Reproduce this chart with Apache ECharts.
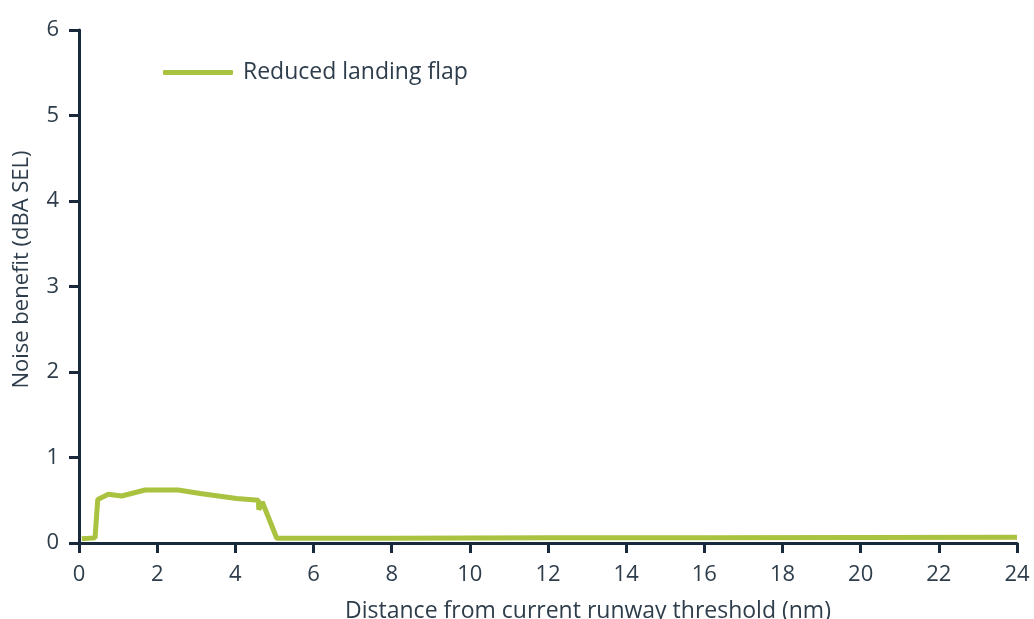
<!DOCTYPE html>
<html>
<head>
<meta charset="utf-8">
<script src="https://cdn.jsdelivr.net/npm/echarts@6/dist/echarts.min.js"></script>
<style>
html,body{margin:0;padding:0;background:#fff;}
#chart{width:1034px;height:619px;}
</style>
</head>
<body>
<div id="chart"></div>
<script>
const seriesName = 'Reduced landing flap';
const distance = [0.07, 0.41, 0.48, 0.75, 1.09, 1.69, 2.54, 3.10, 4.03, 4.59, 4.60, 4.69, 5.06, 8, 12, 16, 20, 24];
const benefit  = [0.05, 0.06, 0.51, 0.57, 0.55, 0.62, 0.62, 0.58, 0.52, 0.50, 0.39, 0.48, 0.055, 0.057, 0.06, 0.062, 0.065, 0.067];
const xTicks = [0, 2, 4, 6, 8, 10, 12, 14, 16, 18, 20, 22, 24];
const yTicks = [0, 1, 2, 3, 4, 5, 6];

const axisColor = '#17293a';
const textColor = '#2e3d4b';
const font = 'Open Sans, Roboto, sans-serif';

const chart = echarts.init(document.getElementById('chart'));
chart.setOption({
  animation: false,
  grid: { left: 79, right: 17, top: 30, bottom: 76, containLabel: false, outerBoundsMode: 'none' },
  legend: {
    data: [seriesName],
    left: 158, top: 56,
    icon: 'roundRect',
    itemWidth: 70, itemHeight: 5, itemGap: 10,
    textStyle: { color: textColor, fontSize: 23, fontFamily: font, padding: [0, 0, 0, 5] }
  },
  xAxis: {
    type: 'value',
    min: xTicks[0], max: xTicks[xTicks.length - 1], interval: 2,
    name: 'Distance from current runway threshold (nm)',
    nameLocation: 'middle', nameGap: 57, nameMoveOverlap: false,
    nameTextStyle: { color: textColor, fontSize: 23, fontFamily: font, padding: [0, 0, 0, 80] },
    axisLine: { show: true, onZero: false, lineStyle: { color: axisColor, width: 3 } },
    axisTick: { show: true, length: 10, lineStyle: { color: axisColor, width: 3 } },
    axisLabel: { color: textColor, fontSize: 22, fontFamily: font, margin: 21 },
    splitLine: { show: false }
  },
  yAxis: {
    type: 'value',
    min: yTicks[0], max: yTicks[yTicks.length - 1], interval: 1,
    name: 'Noise benefit (dBA SEL)',
    nameLocation: 'middle', nameGap: 46, nameMoveOverlap: false,
    nameTextStyle: { color: textColor, fontSize: 22, fontFamily: font, padding: [0, 0, 0, 34] },
    axisLine: { show: true, lineStyle: { color: axisColor, width: 3 } },
    axisTick: { show: true, length: 10, lineStyle: { color: axisColor, width: 3 } },
    axisLabel: { color: textColor, fontSize: 22, fontFamily: font, margin: 20 },
    splitLine: { show: false }
  },
  series: [{
    name: seriesName,
    type: 'line',
    data: distance.map((d, i) => [d, benefit[i]]),
    showSymbol: false,
    symbol: 'none',
    itemStyle: { color: '#a9c23f' },
    lineStyle: { color: '#a9c23f', width: 5 }
  }]
});
</script>
</body>
</html>
